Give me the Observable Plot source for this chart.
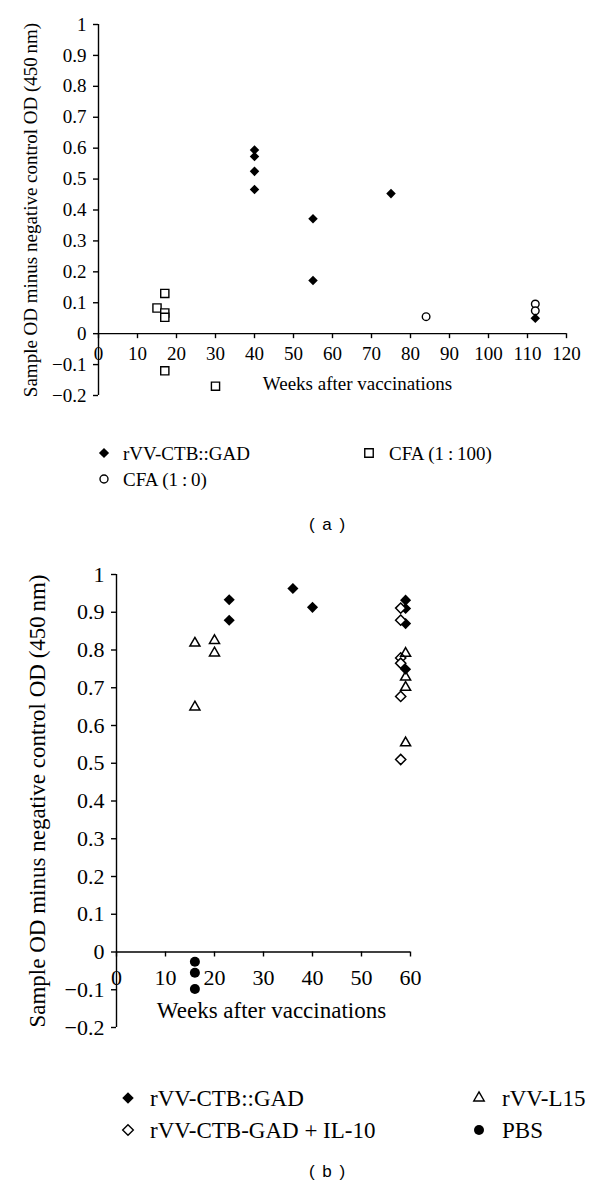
<!DOCTYPE html>
<html><head><meta charset="utf-8">
<script src="https://cdn.jsdelivr.net/npm/d3@7"></script>
<script src="https://cdn.jsdelivr.net/npm/@observablehq/plot@0.6"></script>
<style>
body{margin:0;background:#fff;}
#root{position:relative;width:600px;height:1196px;overflow:hidden;font-family:"Liberation Serif","Times New Roman",serif;color:#000;background:#fff;}
.pane{position:absolute;left:0;}
.pane svg text{font-family:"Liberation Serif","Times New Roman",serif;}
.sym{position:absolute;transform:translate(-50%,-50%);}
.lt{position:absolute;white-space:nowrap;transform:translateY(-50%);line-height:1;}
.cap{position:absolute;font-family:"Liberation Sans",Arial,sans-serif;font-size:17px;word-spacing:3px;transform:translate(-50%,-50%);white-space:pre;}
</style>
</head><body><div id="root"></div>
<script>
// ---------- Panel (a) data ----------
const gadA_weeks = [40, 40, 40, 40, 55, 55, 75, 112];
const gadA_od    = [0.594, 0.573, 0.525, 0.466, 0.372, 0.172, 0.453, 0.050];
const cfa100_weeks = [15, 17, 17, 17, 17, 30];
const cfa100_od    = [0.083, 0.130, 0.067, 0.053, -0.120, -0.170];
const cfa10_weeks = [84, 112, 112];
const cfa10_od    = [0.055, 0.096, 0.074];
const xTicksA = [0, 10, 20, 30, 40, 50, 60, 70, 80, 90, 100, 110, 120];
const yTicks = [-0.2, -0.1, 0, 0.1, 0.2, 0.3, 0.4, 0.5, 0.6, 0.7, 0.8, 0.9, 1];

// ---------- Panel (b) data ----------
const gadB_weeks = [23, 23, 36, 40, 59, 59, 59, 59];
const gadB_od    = [0.933, 0.879, 0.963, 0.913, 0.932, 0.910, 0.870, 0.749];
const il10_weeks = [58, 58, 58, 58, 58, 58];
const il10_od    = [0.911, 0.879, 0.779, 0.765, 0.677, 0.510];
const l15_weeks  = [16, 16, 20, 20, 59, 59, 59, 59];
const l15_od     = [0.818, 0.649, 0.825, 0.792, 0.791, 0.728, 0.701, 0.554];
const pbs_weeks  = [16, 16, 16];
const pbs_od     = [-0.026, -0.055, -0.098];
const xTicksB = [0, 10, 20, 30, 40, 50, 60];

const yLabel = "Sample OD minus negative control OD (450\u2009nm)";
const xLabel = "Weeks after vaccinations";

const zip = (xs, ys) => xs.map((x, i) => ({week: x, od: ys[i]}));
const fmt = d => (d < 0 ? "\u2212" : "") + String(Math.abs(Math.round(d * 10) / 10));

function frame(o) {
  return [
    Plot.ruleX([0], {stroke: "black", strokeWidth: 1.4}),
    Plot.ruleY([0], {stroke: "black", strokeWidth: 1.4}),
    // y ticks (outward, left of the axis) and labels
    Plot.ruleY(yTicks, {y: d => d, x1: () => 0, x2: () => 0, insetLeft: -5, stroke: "black", strokeWidth: 1.4}),
    Plot.text(yTicks, {x: () => 0, y: d => d, text: fmt, textAnchor: "end", dx: -12, fontSize: o.tickFont}),
    // x ticks (below the zero line) and labels
    Plot.ruleX(o.xTicks, {x: d => d, y1: () => 0, y2: () => 0, insetBottom: -5, stroke: "black", strokeWidth: 1.4}),
    Plot.text(o.xTicks, {x: d => d, y: () => 0, text: d => String(d), dy: o.tickDy, fontSize: o.tickFont}),
    Plot.text([yLabel], {frameAnchor: "left", textAnchor: "middle", rotate: -90, dx: o.yLabelDx, fontSize: o.labelFont}),
    Plot.text([xLabel], {frameAnchor: "bottom", textAnchor: "middle", dx: o.xLabelDx, dy: o.xLabelDy, fontSize: o.labelFont})
  ];
}

const root = document.getElementById("root");
const font = '"Liberation Serif","Times New Roman",serif';

const plotA = Plot.plot({
  width: 600, height: 420,
  marginTop: 24, marginBottom: 25, marginLeft: 98, marginRight: 34,
  x: {domain: [0, 120], axis: null},
  y: {domain: [-0.2, 1], axis: null},
  style: {fontFamily: font, color: "black", background: "white", overflow: "visible"},
  marks: [
    ...frame({xTicks: xTicksA, tickFont: 19, tickDy: 20, labelFont: 19, yLabelDx: -68, xLabelDx: 25, xLabelDy: -6}),
    Plot.dot(zip(cfa100_weeks, cfa100_od), {x: "week", y: "od", symbol: "square2", r: 5.2, fill: "white", stroke: "black", strokeWidth: 1.4}),
    Plot.dot(zip(cfa10_weeks, cfa10_od), {x: "week", y: "od", symbol: "circle", r: 3.8, fill: "white", stroke: "black", strokeWidth: 1.4}),
    Plot.dot(zip(gadA_weeks, gadA_od), {x: "week", y: "od", symbol: "diamond2", r: 4.3, fill: "black", stroke: "none"})
  ]
});
const pa = document.createElement("div"); pa.className = "pane"; pa.style.top = "0px"; pa.appendChild(plotA); root.appendChild(pa);

const plotB = Plot.plot({
  width: 600, height: 510,
  marginTop: 34, marginBottom: 23, marginLeft: 116, marginRight: 190,
  x: {domain: [0, 60], axis: null},
  y: {domain: [-0.2, 1], axis: null},
  style: {fontFamily: font, color: "black", background: "white", overflow: "visible"},
  marks: [
    ...frame({xTicks: xTicksB, tickFont: 22, tickDy: 26, labelFont: 23, yLabelDx: -79, xLabelDx: 8, xLabelDy: -10}),
    Plot.dot(zip(gadB_weeks, gadB_od), {x: "week", y: "od", symbol: "diamond2", r: 5, fill: "black", stroke: "none"}),
    Plot.dot(zip(il10_weeks, il10_od), {x: "week", y: "od", symbol: "diamond2", r: 4.6, fill: "white", stroke: "black", strokeWidth: 1.5}),
    Plot.dot(zip(l15_weeks, l15_od), {x: "week", y: "od", symbol: "triangle2", r: 4.8, fill: "none", stroke: "black", strokeWidth: 1.5}),
    Plot.dot(zip(pbs_weeks, pbs_od), {x: "week", y: "od", symbol: "circle", r: 5, fill: "black", stroke: "none"})
  ]
});
const pb = document.createElement("div"); pb.className = "pane"; pb.style.top = "540px"; pb.appendChild(plotB); root.appendChild(pb);

// ---------- legends ----------
const symbolMap = {diamond2: d3.symbolDiamond2, square2: d3.symbolSquare2, circle: d3.symbolCircle, triangle2: d3.symbolTriangle2};
function addSym(type, r, fill, stroke, cx, cy) {
  const s = 24;
  const path = d3.symbol(symbolMap[type], Math.PI * r * r)();
  const div = document.createElement("div");
  div.className = "sym";
  div.style.left = cx + "px"; div.style.top = cy + "px";
  div.innerHTML = `<svg width="${s}" height="${s}" style="display:block"><path transform="translate(${s/2},${s/2})" d="${path}" fill="${fill}" stroke="${stroke}" stroke-width="1.4"/></svg>`;
  root.appendChild(div);
}
function addText(txt, x, y, size) {
  const d = document.createElement("div");
  d.className = "lt"; d.textContent = txt;
  d.style.left = x + "px"; d.style.top = y + "px"; d.style.fontSize = size + "px";
  root.appendChild(d);
}
function addCap(txt, x, y) {
  const d = document.createElement("div");
  d.className = "cap"; d.textContent = txt;
  d.style.left = x + "px"; d.style.top = y + "px";
  root.appendChild(d);
}

const legendA = ["rVV-CTB::GAD", "CFA (1\u2009:\u2009100)", "CFA (1\u2009:\u20090)"];
addSym("diamond2", 4.6, "black", "none", 104, 453); addText(legendA[0], 123, 453, 19);
addSym("square2", 5.4, "white", "black", 369, 453); addText(legendA[1], 389, 453, 19);
addSym("circle", 4, "white", "black", 104, 479);  addText(legendA[2], 123, 479, 19);
addCap("( a )", 327, 525);

const legendB = ["rVV-CTB::GAD", "rVV-L15", "rVV-CTB-GAD + IL-10", "PBS"];
addSym("diamond2", 5.2, "black", "none", 128, 1098); addText(legendB[0], 150, 1098, 23);
addSym("triangle2", 5, "white", "black", 479, 1098); addText(legendB[1], 502, 1098, 23);
addSym("diamond2", 4.8, "white", "black", 128, 1130); addText(legendB[2], 150, 1130, 23);
addSym("circle", 5, "black", "none", 479, 1130); addText(legendB[3], 502, 1130, 23);
addCap("( b )", 327, 1172);
</script></body></html>
